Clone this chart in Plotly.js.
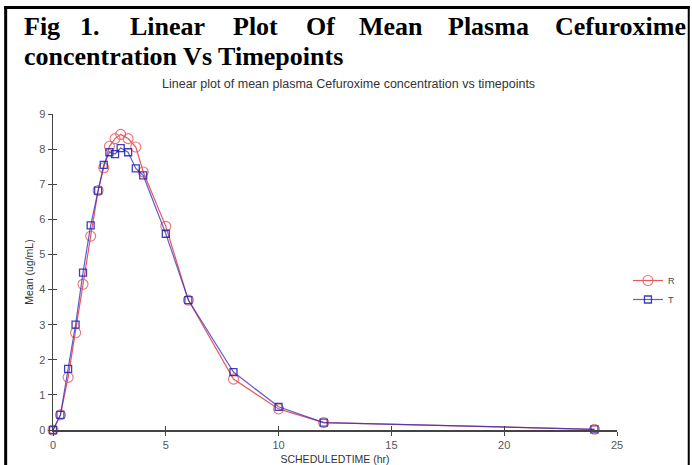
<!DOCTYPE html>
<html>
<head>
<meta charset="utf-8">
<script src="https://cdn.plot.ly/plotly-3.0.1.min.js"></script>
<style>
html,body{margin:0;padding:0;background:#fff;}
#chart{width:692px;height:465px;}
</style>
</head>
<body>
<div id="chart"></div>
<script>
// ---- data ----
const timeHr = [0, 0.33, 0.67, 1, 1.33, 1.67, 2, 2.25, 2.5, 2.75, 3, 3.33, 3.67, 4, 5, 6, 8, 10, 12, 24];
const meanR  = [0, 0.43, 1.50, 2.77, 4.15, 5.52, 6.82, 7.47, 8.08, 8.30, 8.42, 8.30, 8.06, 7.35, 5.80, 3.70, 1.45, 0.60, 0.21, 0.02];
const meanT  = [0, 0.43, 1.74, 3.00, 4.48, 5.83, 6.82, 7.55, 7.91, 7.86, 8.03, 7.91, 7.45, 7.25, 5.59, 3.70, 1.65, 0.66, 0.21, 0.02];
const seriesNames = ['R', 'T'];
const xTicks = [0, 5, 10, 15, 20, 25];
const yTicks = [0, 1, 2, 3, 4, 5, 6, 7, 8, 9];
const headLine1 = ['Fig', '1.', 'Linear', 'Plot', 'Of', 'Mean', 'Plasma', 'Cefuroxime'];
const headLine2 = 'concentration Vs Timepoints';
const plotTitle = 'Linear plot of mean plasma Cefuroxime concentration vs timepoints';

// ---- layout helpers (pixel -> paper) ----
const L = 53, R = 619, T = 114, B = 430;
const px = x => (x - L) / (R - L);
const py = y => (B - y) / (B - T);

const headX = [22, 78, 128, 232, 305, 358, 447, 555];
const serif = {family: '"Liberation Serif", "Times New Roman", serif', size: 26, color: '#000'};

const annotations = headLine1.map((w, i) => ({
  text: '<b>' + w + '</b>', xref: 'paper', yref: 'paper', x: px(headX[i]), y: py(26),
  xanchor: 'left', yanchor: 'middle', showarrow: false, font: serif
}));
annotations.push({
  text: '<b>' + headLine2 + '</b>', xref: 'paper', yref: 'paper', x: px(22), y: py(57),
  xanchor: 'left', yanchor: 'middle', showarrow: false, font: serif
});
annotations.push({
  text: plotTitle, xref: 'paper', yref: 'paper', x: px(350), y: py(84),
  xanchor: 'center', yanchor: 'middle', showarrow: false,
  font: {family: '"Liberation Sans", Arial, sans-serif', size: 12.5, color: '#333'}
});

const shapes = [
  {type: 'line', xref: 'paper', yref: 'paper', x0: px(5.5), x1: px(5.5), y0: py(6), y1: py(470), line: {color: '#000', width: 3}},
  {type: 'line', xref: 'paper', yref: 'paper', x0: px(4), x1: px(692), y0: py(7.5), y1: py(7.5), line: {color: '#000', width: 3}},
  {type: 'line', xref: 'paper', yref: 'paper', x0: px(691), x1: px(691), y0: py(6), y1: py(470), line: {color: '#000', width: 2}}
];

const traces = [
  {
    x: timeHr, y: meanR, name: seriesNames[0], type: 'scatter', mode: 'lines+markers', cliponaxis: false,
    line: {color: 'rgba(225,70,80,0.9)', width: 1.2},
    marker: {symbol: 'circle-open', size: 10, color: 'rgba(230,90,90,0.85)', line: {width: 1.1}}
  },
  {
    x: timeHr, y: meanT, name: seriesNames[1], type: 'scatter', mode: 'lines+markers', cliponaxis: false,
    line: {color: 'rgba(50,40,190,0.75)', width: 1.2},
    marker: {symbol: 'square-open', size: 7, color: 'rgba(30,30,170,0.85)', line: {width: 1.3}}
  }
];

const tickFont = {family: '"Liberation Sans", Arial, sans-serif', size: 11, color: '#555'};
const titleFont = {family: '"Liberation Sans", Arial, sans-serif', size: 10.5, color: '#333'};

const layout = {
  width: 692, height: 465,
  margin: {l: L, r: 692 - R, t: T, b: 465 - B, pad: 0},
  paper_bgcolor: '#fff', plot_bgcolor: '#fff',
  showlegend: true,
  legend: {x: px(630), y: py(266), xanchor: 'left', yanchor: 'top', font: {family: '"Liberation Sans", Arial, sans-serif', size: 9, color: '#444'},
           bgcolor: 'rgba(0,0,0,0)', itemwidth: 30, tracegroupgap: 0},
  xaxis: {
    range: [0, 25], tickvals: xTicks, ticktext: xTicks.map(String), showgrid: false, zeroline: false,
    showline: true, linecolor: '#444', linewidth: 1.5, ticks: 'outside', ticklen: 4, tickcolor: '#444', tickwidth: 1,
    tickfont: tickFont, title: {text: 'SCHEDULEDTIME (hr)', font: titleFont, standoff: 7}
  },
  xaxis2: {
    overlaying: 'x', matches: 'x', range: [0, 25], tickvals: xTicks, showticklabels: false, showgrid: false, zeroline: false,
    ticks: 'inside', ticklen: 4, tickcolor: '#444', showline: false
  },
  yaxis: {
    range: [0, 9], tickvals: yTicks, ticktext: yTicks.map(String), showgrid: false, zeroline: false,
    showline: true, linecolor: '#444', linewidth: 1.5, ticks: 'outside', ticklen: 4, tickcolor: '#444', tickwidth: 1,
    tickfont: tickFont, title: {text: 'Mean (ug/mL)', font: titleFont, standoff: 3}
  },
  yaxis2: {
    overlaying: 'y', matches: 'y', range: [0, 9], tickvals: yTicks, showticklabels: false, showgrid: false, zeroline: false,
    ticks: 'inside', ticklen: 4, tickcolor: '#444', showline: false
  },
  annotations: annotations,
  shapes: shapes
};

// invisible helper trace that activates the inside-tick overlay axes
traces.unshift({x: [0], y: [0], xaxis: 'x2', yaxis: 'y2', mode: 'markers', marker: {opacity: 0}, showlegend: false, hoverinfo: 'skip'});

Plotly.newPlot('chart', traces, layout, {displayModeBar: false, staticPlot: true});
</script>
</body>
</html>
